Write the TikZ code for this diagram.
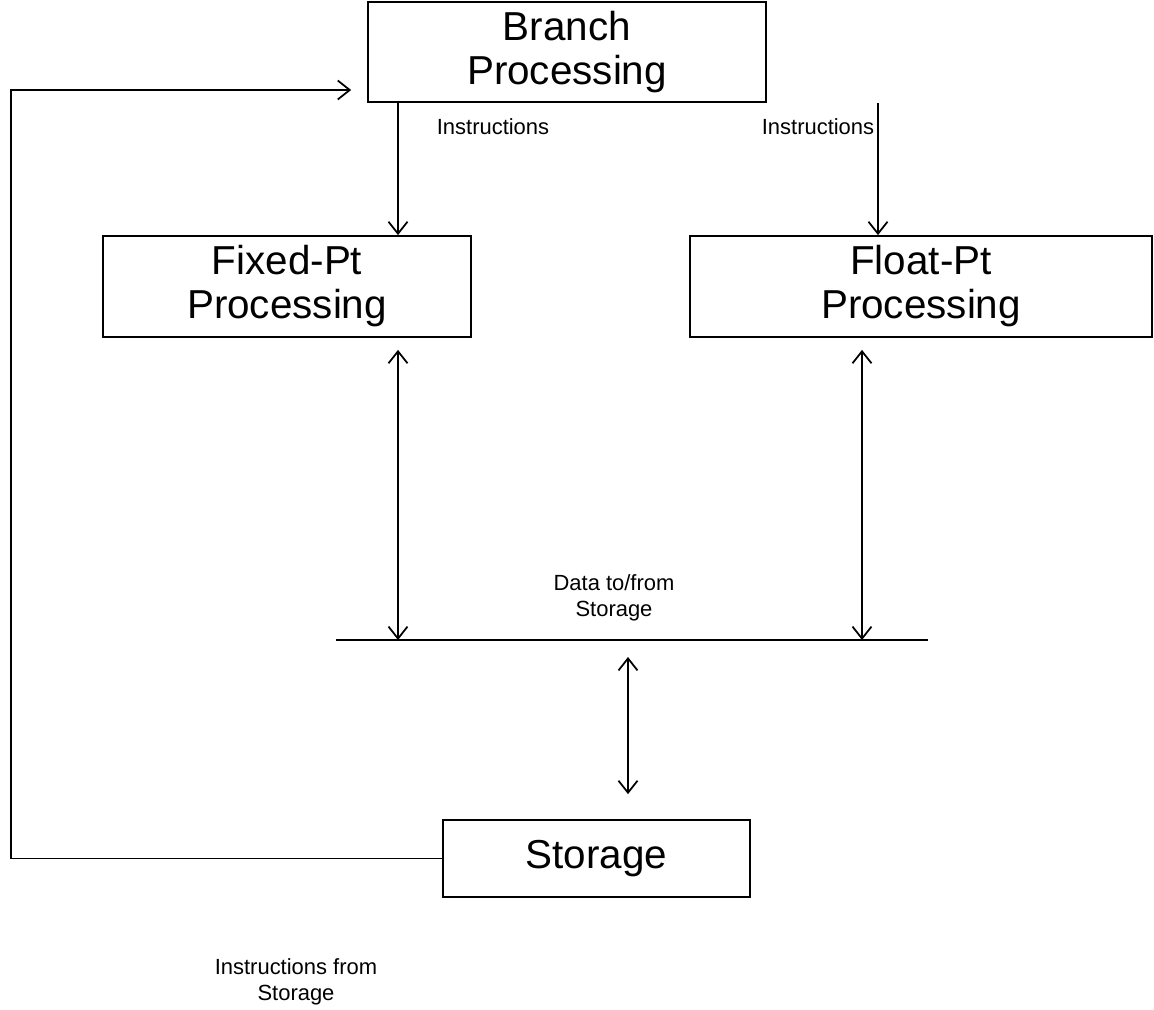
\documentclass[tikz,border=0pt]{standalone}
\usepackage{fontspec}
\setmainfont{Liberation Sans}
\usetikzlibrary{arrows.meta}

\begin{document}
\begin{tikzpicture}[x=0.02cm, y=-0.02cm,
  box/.style={draw, line width=1pt, inner sep=0pt, align=center,
              font=\fontsize{23}{25}\selectfont},
  lbl/.style={align=center, font=\fontsize{12.5}{15}\selectfont},
  wire/.style={line width=1pt},
  arr/.style={wire, -{Straight Barb[length=0.24cm, width=0.38cm]}},
  darr/.style={wire, {Straight Barb[length=0.24cm, width=0.38cm]}-{Straight Barb[length=0.24cm, width=0.38cm]}}]

  % canvas
  \useasboundingbox (0,0) rectangle (1154,1010);

  % processing units and storage
  \node[box, minimum width=7.96cm, minimum height=2.0cm] (branch) at (567,52) {Branch\\Processing};
  \node[box, minimum width=7.36cm, minimum height=2.02cm] (fixed) at (287,286.5) {Fixed-Pt\\Processing};
  \node[box, minimum width=9.24cm, minimum height=2.02cm] (float) at (921,286.5) {Float-Pt\\Processing};
  \node[box, minimum width=6.14cm, minimum height=1.54cm] (storage) at (596.5,858.5) {Storage};

  % reference columns for vertical connectors
  \coordinate (colA) at (398,0);
  \coordinate (colB) at (878,0);
  \coordinate (colC) at (398,0);
  \coordinate (colD) at (862,0);
  \coordinate (colE) at (628,0);

  % data bus
  \coordinate (busL) at (336,640);
  \coordinate (busR) at (928,640);
  \draw[wire] (busL) -- (busR);

  % instruction paths from branch processing
  \draw[arr] (branch.south -| colA) -- (fixed.north -| colA);
  \draw[arr] (branch.south -| colB) -- (float.north -| colB);
  \node[lbl] (instrA) at (493,127) {Instructions};
  \node[lbl] (instrB) at (818,127) {Instructions};

  % data to/from storage
  \draw[darr, shorten <=0.24cm] (fixed.south -| colC) -- (busL -| colC);
  \draw[darr, shorten <=0.24cm] (float.south -| colD) -- (busL -| colD);
  \draw[darr, shorten <=0.34cm, shorten >=0.5cm] (busL -| colE) -- (storage.north -| colE);
  \node[lbl] (data) at (614,598) {Data to/from\\Storage};

  % instruction feedback from storage
  \coordinate (fbLow) at (11,858.5);
  \coordinate (fbHigh) at (11,90);
  \draw[arr, shorten >=0.32cm, line join=miter] (storage.west) -- (fbLow) -- (fbHigh) -- (branch.west |- fbHigh);
  \node[lbl] (fblbl) at (296,982) {Instructions from\\Storage};
\end{tikzpicture}
\end{document}
